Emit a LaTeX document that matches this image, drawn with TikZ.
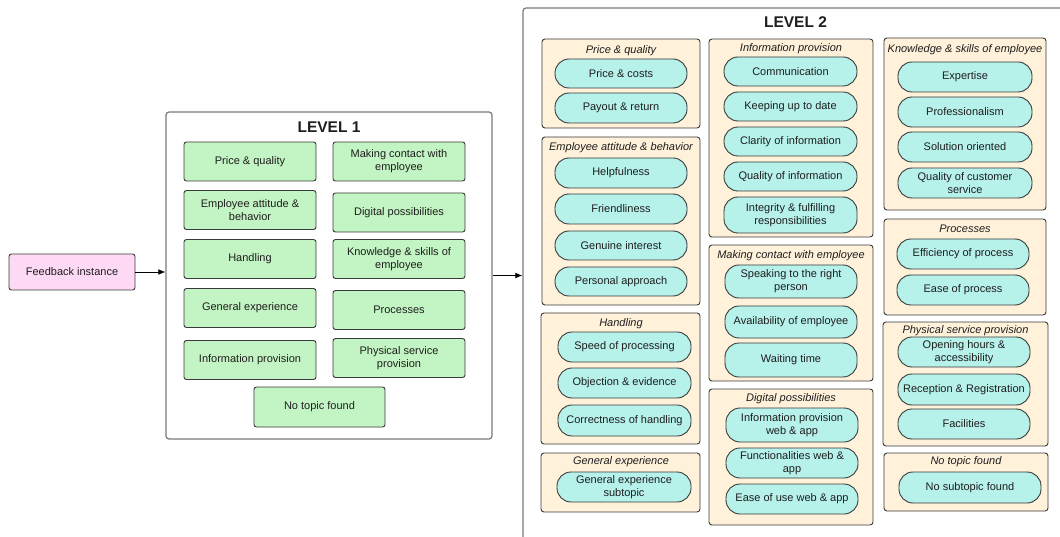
\documentclass[tikz,border=0pt]{standalone}
\usepackage{fontspec}
\setmainfont{Liberation Sans}
\usetikzlibrary{arrows.meta}

\definecolor{ink}{HTML}{1E1E1E}
\definecolor{edge}{HTML}{3A3A3A}
\definecolor{framegray}{HTML}{7A7A7A}
\definecolor{topicgreen}{HTML}{C3F4C3}
\definecolor{feedpink}{HTML}{FDD9F5}
\definecolor{groupcream}{HTML}{FFF1DA}
\definecolor{pillcyan}{HTML}{B6F1EA}

\tikzset{
  base/.style={font=\fontsize{11}{13}\selectfont, text=ink, align=center, inner sep=0pt},
  topicbox/.style={base, draw=edge, line width=0.9pt, fill=topicgreen, rounded corners=2.5pt,
                   minimum width=132, minimum height=39},
  feedbox/.style={base, draw=edge, line width=0.9pt, fill=feedpink, rounded corners=2.5pt},
  frame/.style={draw=framegray, line width=1.2pt, rounded corners=3pt, inner sep=0pt},
  group/.style={draw=edge, line width=0.9pt, fill=groupcream, rounded corners=3pt, inner sep=0pt},
  pill/.style={base, draw=edge, line width=0.9pt, fill=pillcyan, rounded corners=14pt},
  grouptitle/.style={base, font=\fontsize{11}{13}\selectfont\itshape, yshift=-1.5pt},
  leveltitle/.style={base, font=\fontsize{15.5}{18}\selectfont\bfseries},
  link/.style={-{Latex[length=7pt,width=5.5pt]}, draw=black, line width=0.6pt}
}

\begin{document}
\begin{tikzpicture}[x=1pt, y=-1pt]
\useasboundingbox (0,0) rectangle (1060,537);
\clip (0,0) rectangle (1060,537);
\fill[white] (0,0) rectangle (1060,537);

% ---------- input ----------
\node[feedbox, minimum width=126, minimum height=36] (fb) at (72,272) {Feedback instance};

% ---------- level 1 ----------
\node[frame, minimum width=326, minimum height=327] (lvl1) at (329,275.5) {};
\node[leveltitle] (lvl1t) at (329,127) {LEVEL 1};

\node[topicbox] (tPQ) at (250,161.5) {Price \& quality};
\node[topicbox] (tEA) at (250,210)   {Employee attitude \&\\behavior};
\node[topicbox] (tHA) at (250,259)   {Handling};
\node[topicbox] (tGE) at (250,308)   {General experience};
\node[topicbox] (tIP) at (250,360)   {Information provision};

\node[topicbox] (tMC) at (399,161.5) {Making contact with\\employee};
\node[topicbox] (tDP) at (399,212.5) {Digital possibilities};
\node[topicbox] (tKS) at (399,259)   {Knowledge \& skills of\\employee};
\node[topicbox] (tPR) at (399,310)   {Processes};
\node[topicbox] (tPS) at (399,358)   {Physical service\\provision};

\node[topicbox, minimum width=131, minimum height=40] (tNT) at (319.5,407) {No topic found};

% ---------- level 2 ----------
\node[frame, minimum width=600, minimum height=600] (lvl2) at (823,308) {};
\node[leveltitle] (lvl2t) at (795.5,22) {LEVEL 2};

% column A
\node[group, minimum width=158, minimum height=89] (gPQ) at (621,83.5) {};
\node[grouptitle] (gPQt) at (621,49) {Price \& quality};
\node[pill, minimum width=132, minimum height=29] (sPC) at (621,73.5) {Price \& costs};
\node[pill, minimum width=132, minimum height=30] (sPR) at (621,108)  {Payout \& return};

\node[group, minimum width=158, minimum height=168] (gEA) at (621,221) {};
\node[grouptitle] (gEAt) at (621,146) {Employee attitude \& behavior};
\node[pill, minimum width=132, minimum height=30] (sHE) at (621,173)   {Helpfulness};
\node[pill, minimum width=132, minimum height=30] (sFR) at (621,209)   {Friendliness};
\node[pill, minimum width=132, minimum height=29] (sGI) at (621,245.5) {Genuine interest};
\node[pill, minimum width=132, minimum height=29] (sPA) at (621,281.5) {Personal approach};

\node[group, minimum width=159, minimum height=131] (gHA) at (620.5,378.5) {};
\node[grouptitle] (gHAt) at (621,322) {Handling};
\node[pill, minimum width=133, minimum height=30] (sSP) at (624.5,347)   {Speed of processing};
\node[pill, minimum width=133, minimum height=30] (sOE) at (624.5,383)   {Objection \& evidence};
\node[pill, minimum width=133, minimum height=31] (sCH) at (624.5,420.5) {Correctness of handling};

\node[group, minimum width=159, minimum height=59] (gGE) at (620.5,482.5) {};
\node[grouptitle] (gGEt) at (621,460) {General experience};
\node[pill, minimum width=134, minimum height=30] (sGE) at (624,487) {General experience\\subtopic};

% column B
\node[group, minimum width=164, minimum height=198] (gIP) at (791,138) {};
\node[grouptitle] (gIPt) at (791,47) {Information provision};
\node[pill, minimum width=133, minimum height=29] (sCO) at (790.5,71.5)  {Communication};
\node[pill, minimum width=133, minimum height=29] (sKU) at (790.5,106.5) {Keeping up to date};
\node[pill, minimum width=133, minimum height=29] (sCI) at (790.5,141.5) {Clarity of information};
\node[pill, minimum width=133, minimum height=29] (sQI) at (790.5,176.5) {Quality of information};
\node[pill, minimum width=133, minimum height=36] (sIF) at (790.5,215)   {Integrity \& fulfilling\\responsibilities};

\node[group, minimum width=164, minimum height=136] (gMC) at (791,313) {};
\node[grouptitle] (gMCt) at (791,254) {Making contact with employee};
\node[pill, minimum width=132, minimum height=33] (sSR) at (791,281.5) {Speaking to the right\\person};
\node[pill, minimum width=132, minimum height=32] (sAE) at (791,322)   {Availability of employee};
\node[pill, minimum width=132, minimum height=34] (sWT) at (791,360)   {Waiting time};

\node[group, minimum width=164, minimum height=136] (gDP) at (791,457) {};
\node[grouptitle] (gDPt) at (791,397) {Digital possibilities};
\node[pill, minimum width=132, minimum height=34] (sIW) at (792,425) {Information provision\\web \& app};
\node[pill, minimum width=132, minimum height=30] (sFW) at (792,463) {Functionalities web \&\\app};
\node[pill, minimum width=132, minimum height=30] (sEW) at (792,499) {Ease of use web \& app};

% column C
\node[group, minimum width=162, minimum height=172] (gKS) at (965,124) {};
\node[grouptitle] (gKSt) at (965,48) {Knowledge \& skills of employee};
\node[pill, minimum width=134, minimum height=30] (sEX) at (965,77)  {Expertise};
\node[pill, minimum width=134, minimum height=30] (sPF) at (965,112) {Professionalism};
\node[pill, minimum width=134, minimum height=30] (sSO) at (965,147) {Solution oriented};
\node[pill, minimum width=134, minimum height=30] (sQC) at (965,183) {Quality of customer\\service};

\node[group, minimum width=162, minimum height=96] (gPR) at (965,267) {};
\node[grouptitle] (gPRt) at (965,227) {Processes};
\node[pill, minimum width=132, minimum height=30] (sEF) at (963,254) {Efficiency of process};
\node[pill, minimum width=132, minimum height=30] (sEP) at (963,290) {Ease of process};

\node[group, minimum width=165, minimum height=124] (gPS) at (965.5,384) {};
\node[grouptitle] (gPSt) at (965.5,329) {Physical service provision};
\node[pill, minimum width=132, minimum height=30] (sOH) at (964,352)   {Opening hours \&\\accessibility};
\node[pill, minimum width=132, minimum height=31] (sRR) at (964,389.5) {Reception \& Registration};
\node[pill, minimum width=132, minimum height=30] (sFA) at (964,424)   {Facilities};

\node[group, minimum width=164, minimum height=58] (gNT) at (966,482) {};
\node[grouptitle] (gNTt) at (966,460) {No topic found};
\node[pill, minimum width=142, minimum height=31] (sNS) at (970,487.5) {No subtopic found};

% ---------- connectors ----------
\draw[link] (fb.east) -- (fb.east -| lvl1.west);
\draw[link] (lvl1.east) -- (lvl1.east -| lvl2.west);
\end{tikzpicture}
\end{document}
